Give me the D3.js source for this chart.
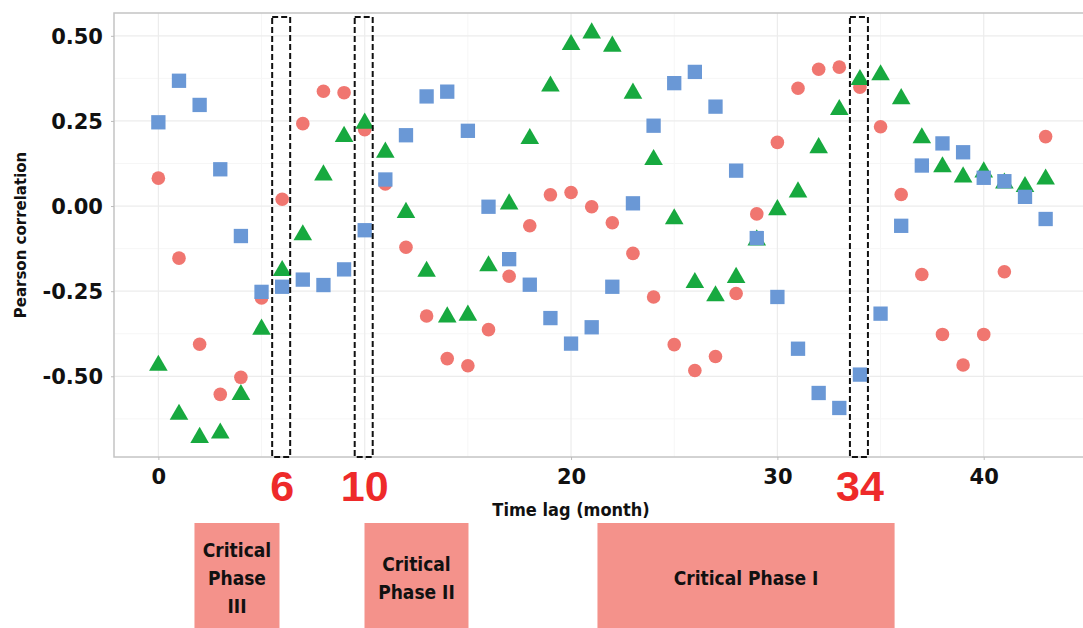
<!DOCTYPE html>
<html>
<head>
<meta charset="utf-8">
<script src="https://cdn.jsdelivr.net/npm/d3@7"></script>
<style>
  body { margin: 0; background: #fff; }
  svg { display: block; }
</style>
</head>
<body>
<div id="chart"></div>
<script>
// Time lags (months)
const lags = [0,1,2,3,4,5,6,7,8,9,10,11,12,13,14,15,16,17,18,19,20,21,22,23,24,25,26,27,28,29,30,31,32,33,34,35,36,37,38,39,40,41,42,43];

// Pearson correlation for each series
const redSeries = [0.082,-0.153,-0.406,-0.553,-0.503,-0.27,0.020,0.242,0.337,0.333,0.224,0.065,-0.121,-0.323,-0.448,-0.469,-0.363,-0.206,-0.058,0.033,0.040,-0.002,-0.049,-0.139,-0.267,-0.407,-0.483,-0.442,-0.257,-0.023,0.187,0.346,0.402,0.408,0.349,0.233,0.034,-0.201,-0.377,-0.467,-0.377,-0.193,0.030,0.204];
const greenSeries = [-0.468,-0.612,-0.680,-0.667,-0.554,-0.362,-0.190,-0.085,0.091,0.204,0.243,0.158,-0.019,-0.192,-0.326,-0.321,-0.176,0.006,0.198,0.352,0.474,0.508,0.469,0.331,0.136,-0.038,-0.225,-0.264,-0.21,-0.10,-0.011,0.041,0.171,0.283,0.371,0.385,0.315,0.200,0.115,0.085,0.100,0.067,0.057,0.079];
const blueSeries = [0.246,0.368,0.297,0.108,-0.088,-0.252,-0.237,-0.216,-0.232,-0.186,-0.071,0.078,0.208,0.322,0.336,0.221,-0.002,-0.156,-0.231,-0.329,-0.404,-0.356,-0.237,0.008,0.236,0.361,0.394,0.292,0.104,-0.094,-0.267,-0.419,-0.549,-0.593,-0.495,-0.316,-0.058,0.119,0.184,0.158,0.083,0.073,0.027,-0.038];

// Axis ticks
const xTicks = [0, 10, 20, 30, 40];
const xTickLabels = ["0", "", "20", "30", "40"];
const yTicks = [0.5, 0.25, 0, -0.25, -0.5];
const yTickLabels = ["0.50", "0.25", "0.00", "-0.25", "-0.50"];

// Highlighted lags
const keyLags = [6, 10, 34];

// Critical phases (in months of lag)
const phaseNames = [["Critical", "Phase", "III"], ["Critical", "Phase II"], ["Critical Phase I"]];
const phaseStart = [1.75, 9.99, 21.28];
const phaseEnd = [5.87, 15.03, 35.68];

const W = 1083, H = 628;
const panel = { left: 114, right: 1090, top: 13, bottom: 457 };

const svg = d3.select("#chart").append("svg")
  .attr("width", W)
  .attr("height", H);

const x = d3.scaleLinear()
  .domain([-2.15, 45.15])
  .range([panel.left, panel.right]);

const y = d3.scaleLinear()
  .domain([-0.737, 0.567])
  .range([panel.bottom, panel.top]);

// minor + major grid
const grid = svg.append("g");
grid.selectAll(".vminor")
  .data([5, 15, 25, 35, 45])
  .enter().append("line")
  .attr("x1", d => x(d)).attr("x2", d => x(d))
  .attr("y1", panel.top).attr("y2", panel.bottom)
  .attr("stroke", "#f6f6f6").attr("stroke-width", 1);
grid.selectAll(".hminor")
  .data([0.375, 0.125, -0.125, -0.375, -0.625])
  .enter().append("line")
  .attr("x1", panel.left).attr("x2", panel.right)
  .attr("y1", d => y(d)).attr("y2", d => y(d))
  .attr("stroke", "#f6f6f6").attr("stroke-width", 1);
grid.selectAll(".vmajor")
  .data(xTicks)
  .enter().append("line")
  .attr("x1", d => x(d)).attr("x2", d => x(d))
  .attr("y1", panel.top).attr("y2", panel.bottom)
  .attr("stroke", "#ececec").attr("stroke-width", 1.2);
grid.selectAll(".hmajor")
  .data(yTicks)
  .enter().append("line")
  .attr("x1", panel.left).attr("x2", panel.right)
  .attr("y1", d => y(d)).attr("y2", d => y(d))
  .attr("stroke", "#ececec").attr("stroke-width", 1.2);

// panel border
svg.append("rect")
  .attr("x", panel.left).attr("y", panel.top)
  .attr("width", panel.right - panel.left)
  .attr("height", panel.bottom - panel.top)
  .attr("fill", "none")
  .attr("stroke", "#c4c4c4")
  .attr("stroke-width", 1.5);

// axes
const xAxis = d3.axisBottom(x)
  .tickValues(xTicks)
  .tickFormat((d, i) => xTickLabels[i])
  .tickSize(3)
  .tickPadding(9);

const yAxis = d3.axisLeft(y)
  .tickValues(yTicks)
  .tickFormat((d, i) => yTickLabels[i])
  .tickSize(3)
  .tickPadding(8);

const gx = svg.append("g")
  .attr("transform", `translate(0, ${panel.bottom})`)
  .call(xAxis);
gx.select(".domain").remove();
gx.selectAll("line").attr("stroke", "#bbb");
gx.selectAll("text")
  .style("font-family", "DejaVu Sans")
  .style("font-weight", "bold")
  .style("font-size", "21px")
  .attr("fill", "#111");

const gy = svg.append("g")
  .attr("transform", `translate(${panel.left}, 0)`)
  .call(yAxis);
gy.select(".domain").remove();
gy.selectAll("line").attr("stroke", "#bbb");
gy.selectAll("text")
  .style("font-family", "DejaVu Sans")
  .style("font-weight", "bold")
  .style("font-size", "21px")
  .attr("dy", "0.36em")
  .attr("fill", "#111");

// axis titles
svg.append("text")
  .attr("transform", `translate(26, ${(panel.top + panel.bottom) / 2}) rotate(-90)`)
  .attr("text-anchor", "middle")
  .style("font-family", "DejaVu Sans")
  .style("font-weight", "bold")
  .style("font-size", "15px")
  .attr("fill", "#111")
  .text("Pearson correlation");

svg.append("text")
  .attr("x", x(20))
  .attr("y", 516)
  .attr("text-anchor", "middle")
  .style("font-family", "DejaVu Sans Condensed")
  .style("font-weight", "bold")
  .style("font-size", "18px")
  .attr("fill", "#111")
  .text("Time lag (month)");

// points: red, then green, then blue on top
const plot = svg.append("g");

plot.selectAll(".red")
  .data(lags)
  .enter().append("path")
  .attr("d", d3.symbol().type(d3.symbolCircle).size(145))
  .attr("transform", (d, i) => `translate(${x(d)}, ${y(redSeries[i])})`)
  .attr("fill", "#f07670");

plot.selectAll(".green")
  .data(lags)
  .enter().append("path")
  .attr("d", d3.symbol().type(d3.symbolTriangle).size(150))
  .attr("transform", (d, i) => `translate(${x(d)}, ${y(greenSeries[i])})`)
  .attr("fill", "#17a93f");

plot.selectAll(".blue")
  .data(lags)
  .enter().append("path")
  .attr("d", d3.symbol().type(d3.symbolSquare).size(205))
  .attr("transform", (d, i) => `translate(${x(d)}, ${y(blueSeries[i])})`)
  .attr("fill", "#6a98d6");

// dashed highlight boxes
svg.selectAll(".keybox")
  .data(keyLags)
  .enter().append("rect")
  .attr("x", d => x(d) - 10)
  .attr("y", 17)
  .attr("width", 18)
  .attr("height", panel.bottom - 17)
  .attr("fill", "none")
  .attr("stroke", "#111")
  .attr("stroke-width", 2)
  .attr("stroke-dasharray", "6,3");

svg.selectAll(".keylabel")
  .data(keyLags)
  .enter().append("text")
  .attr("x", d => x(d))
  .attr("y", 501)
  .attr("text-anchor", "middle")
  .style("font-family", "Liberation Sans")
  .style("font-weight", "bold")
  .style("font-size", "43px")
  .attr("fill", "#ee2a2a")
  .text(d => d);

// critical phase boxes
const phases = phaseNames.map((lines, i) => ({ lines, from: phaseStart[i], to: phaseEnd[i] }));

const pg = svg.selectAll(".phase")
  .data(phases)
  .enter().append("g");

pg.append("rect")
  .attr("x", d => x(d.from))
  .attr("y", 523)
  .attr("width", d => x(d.to) - x(d.from))
  .attr("height", H - 523)
  .attr("fill", "#f4928b");

pg.each(function(d) {
  const g = d3.select(this);
  const cx = (x(d.from) + x(d.to)) / 2;
  const lh = 28;
  const y0 = 578 - (d.lines.length - 1) * lh / 2;
  d.lines.forEach((line, j) => {
    g.append("text")
      .attr("x", cx)
      .attr("y", y0 + j * lh)
      .attr("dy", "0.36em")
      .attr("text-anchor", "middle")
      .style("font-family", "DejaVu Sans Condensed")
      .style("font-weight", "bold")
      .style("font-size", "19px")
      .attr("fill", "#111")
      .text(line);
  });
});
</script>
</body>
</html>
